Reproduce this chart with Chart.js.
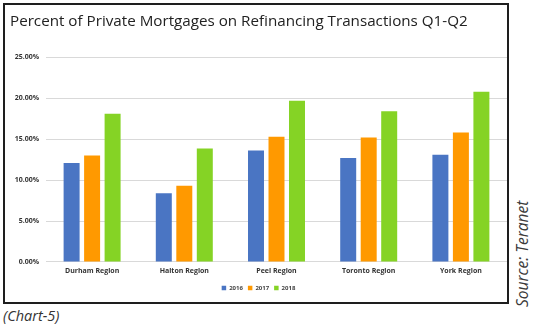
<!DOCTYPE html>
<html>
<head>
<meta charset="utf-8">
<script src="https://cdn.jsdelivr.net/npm/chart.js@4.4.1/dist/chart.umd.min.js"></script>
<style>
  html, body { margin: 0; padding: 0; background: #fff; }
  body { width: 533px; height: 326px; position: relative; overflow: hidden; font-family: "Open Sans", sans-serif; }
  #box { position: absolute; left: 3px; top: 3px; width: 502px; height: 297px; border: 2px solid #1e1e1e; }
  #box canvas { display: block; }
  #source { position: absolute; left: 513px; top: 307px; transform: rotate(-90deg); transform-origin: left top;
            font-style: italic; font-size: 15.5px; color: #3a3a3a; white-space: nowrap; line-height: 18px; }
  #caption { position: absolute; left: 3px; top: 307px; font-style: italic; font-size: 14.5px; color: #333; line-height: 18px; }
</style>
</head>
<body>
<div id="box"><canvas id="chart" width="502" height="297"></canvas></div>
<div id="source">Source: Teranet</div>
<div id="caption">(Chart-5)</div>
<script>
// ================= DATA =================
const regions = ["Durham Region", "Halton Region", "Peel Region", "Toronto Region", "York Region"];
const years = ["2016", "2017", "2018"];
const share2016 = [12.1, 8.4, 13.6, 12.7, 13.1];
const share2017 = [13.0, 9.3, 15.3, 15.2, 15.8];
const share2018 = [18.1, 13.85, 19.7, 18.4, 20.8];
const yTicks = [0, 5, 10, 15, 20, 25];

const colors = ["#4a75c3", "#ff9900", "#85d325"];
const series = [share2016, share2017, share2018];

// ================= CHART =================
const tickFont = { family: "'Open Sans', sans-serif", size: 7, weight: "bold" };

new Chart(document.getElementById("chart").getContext("2d"), {
  type: "bar",
  data: {
    labels: regions,
    datasets: years.map((y, i) => ({
      label: y,
      data: series[i],
      backgroundColor: colors[i],
      borderWidth: 0,
      categoryPercentage: 0.667,
      barPercentage: 0.78
    }))
  },
  options: {
    responsive: false,
    animation: false,
    layout: { padding: { left: 5, right: 0, top: 0, bottom: 1 } },
    plugins: {
      title: {
        display: true,
        text: "Percent of Private Mortgages on Refinancing Transactions Q1-Q2",
        align: "start",
        color: "#222",
        font: { family: "'Open Sans', sans-serif", size: 15.2, weight: "normal" },
        padding: { top: 8, bottom: 26 }
      },
      legend: {
        position: "bottom",
        labels: {
          boxWidth: 4.5,
          boxHeight: 4.5,
          padding: 5,
          color: "#444",
          font: { family: "'Open Sans', sans-serif", size: 6, weight: "bold" }
        }
      },
      tooltip: { enabled: false }
    },
    scales: {
      x: {
        grid: { display: false, drawTicks: false },
        border: { display: true, color: "#d9d9d9" },
        ticks: {
          color: "#333",
          font: { family: "'Open Sans', sans-serif", size: 7, weight: "bold", lineHeight: 0.86 },
          padding: 6,
          maxRotation: 0
        }
      },
      y: {
        min: 0,
        max: 25,
        afterFit: s => { s.width = 36; },
        afterBuildTicks: s => { s.ticks = yTicks.map(v => ({ value: v })); },
        grid: { color: "#d9d9d9", drawTicks: false },
        border: { display: false },
        ticks: {
          color: "#333",
          font: tickFont,
          padding: 7,
          callback: v => v.toFixed(2) + "%"
        }
      }
    }
  }
});
</script>
</body>
</html>
